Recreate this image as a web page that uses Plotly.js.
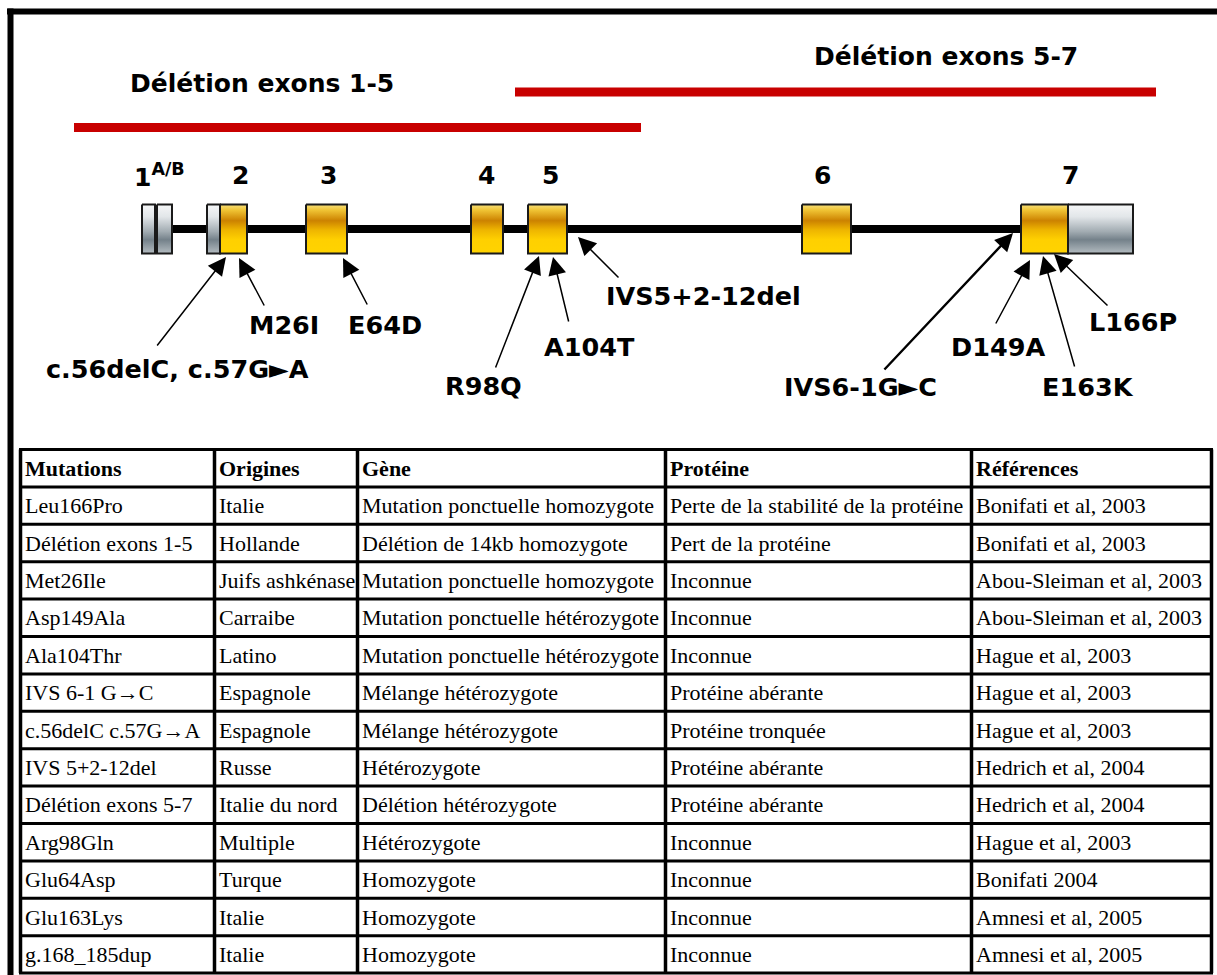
<!DOCTYPE html>
<html>
<head>
<meta charset="utf-8">
<script src="https://cdn.plot.ly/plotly-3.0.1.min.js"></script>
<style>html,body{margin:0;padding:0;background:#fff;}#chart{width:1217px;height:975px;}</style>
</head>
<body>
<div id="chart"></div>
<script>
// ---- Gene structure data ----
const exonNames  = ['1A', '1B', '2', '3', '4', '5', '6', '7'];
const exonStart  = [142, 157, 207, 306, 471, 528, 802, 1021];
const exonEnd    = [155, 172, 247, 347, 503, 567, 851, 1133];
const cdsStart   = [null, null, 220, 306, 471, 528, 802, 1021];
const cdsEnd     = [null, null, 247, 347, 503, 567, 851, 1068];
const exonLabels = ['1<sup>A/B</sup>', '2', '3', '4', '5', '6', '7'];
const exonLabelX = [159, 240, 328, 486, 550, 822, 1070];

// ---- Deletions ----
const delNames = ['Délétion exons 1-5', 'Délétion exons 5-7'];
const delStart = [74, 515];
const delEnd   = [641, 1156];
const delY     = [127.5, 92];
const delLabelX = [262, 946];
const delLabelY = [83, 56];

// ---- Mutations (arrow head, arrow tail, label) ----
const mutNames  = ['c.56delC, c.57G►A', 'M26I', 'E64D', 'R98Q', 'A104T', 'IVS5+2-12del', 'IVS6-1G►C', 'D149A', 'E163K', 'L166P'];
const mutHeadX  = [226, 239, 343, 539, 553, 578, 1013, 1030, 1043, 1054];
const mutHeadY  = [257, 258, 258, 256, 257, 237, 233, 260, 256, 254];
const mutTailX  = [156, 265, 368, 495, 569, 620, 883, 995, 1075, 1109];
const mutTailY  = [347, 307, 306, 369, 323, 279, 371, 325, 368, 307];
const mutLabelX = [177, 284, 385, 483, 589, 703, 860, 998, 1088, 1133];
const mutLabelY = [369, 325, 325, 386, 347, 296, 387, 347, 387, 322];
const mutArrowW = [1.5, 1.5, 1.5, 1.5, 1.5, 1.5, 2.4, 1.5, 1.5, 1.5];

// ---- Table data ----
const tableHeader = ['Mutations', 'Origines', 'Gène', 'Protéine', 'Références'];
const colMutations = ['Leu166Pro', 'Délétion exons 1-5', 'Met26Ile', 'Asp149Ala', 'Ala104Thr', 'IVS 6-1 G→C', 'c.56delC c.57G→A', 'IVS 5+2-12del', 'Délétion exons 5-7', 'Arg98Gln', 'Glu64Asp', 'Glu163Lys', 'g.168_185dup'];
const colOrigines = ['Italie', 'Hollande', 'Juifs ashkénase', 'Carraibe', 'Latino', 'Espagnole', 'Espagnole', 'Russe', 'Italie du nord', 'Multiple', 'Turque', 'Italie', 'Italie'];
const colGene = ['Mutation ponctuelle homozygote', 'Délétion de 14kb homozygote', 'Mutation ponctuelle homozygote', 'Mutation ponctuelle hétérozygote', 'Mutation ponctuelle hétérozygote', 'Mélange hétérozygote', 'Mélange hétérozygote', 'Hétérozygote', 'Délétion hétérozygote', 'Hétérozygote', 'Homozygote', 'Homozygote', 'Homozygote'];
const colProteine = ['Perte de la stabilité de la protéine', 'Pert de la protéine', 'Inconnue', 'Inconnue', 'Inconnue', 'Protéine abérante', 'Protéine tronquée', 'Protéine abérante', 'Protéine abérante', 'Inconnue', 'Inconnue', 'Inconnue', 'Inconnue'];
const colReferences = ['Bonifati et al, 2003', 'Bonifati et al, 2003', 'Abou-Sleiman et al, 2003', 'Abou-Sleiman et al, 2003', 'Hague et al, 2003', 'Hague et al, 2003', 'Hague et al, 2003', 'Hedrich et al, 2004', 'Hedrich et al, 2004', 'Hague et al, 2003', 'Bonifati 2004', 'Amnesi et al, 2005', 'Amnesi et al, 2005'];

// ---- Layout constants (styling / geometry) ----
const W = 1217, H = 975;
const geneY = 229, boxHalf = 24.5;
const tableTop = 449.5, rowH = 37.4;
const colEdges = [20.5, 214.5, 357.5, 665.5, 971.5, 1211.5];
const serif = 'Liberation Serif, Times New Roman, serif';
const sans = 'DejaVu Sans, Verdana, sans-serif';

const goldScale = [[0, '#f7e07a'], [0.12, '#efc233'], [0.33, '#cc8200'], [0.52, '#eeb500'], [0.72, '#ffd000'], [1, '#ffd300']];
const grayScale = [[0, '#f6f7f8'], [0.25, '#e2e6e9'], [0.55, '#a2acb2'], [0.72, '#74818a'], [1, '#b4bcc1']];

const traces = [];
const shapes = [];
const annotations = [];

// intron line
traces.push({x: [148, 1133], y: [geneY, geneY], mode: 'lines', line: {color: '#000', width: 8}, hoverinfo: 'skip', showlegend: false});

// deletion bars
for (let i = 0; i < delNames.length; i++) {
  traces.push({x: [delStart[i], delEnd[i]], y: [delY[i], delY[i]], mode: 'lines', line: {color: '#c80000', width: 9}, hoverinfo: 'skip', showlegend: false});
  annotations.push({x: delLabelX[i], y: delLabelY[i], xref: 'x', yref: 'y', text: '<b>' + delNames[i] + '</b>', showarrow: false,
    font: {family: sans, size: 25, color: '#000'}, xanchor: 'center', yanchor: 'middle'});
}

function box(x0, x1, scale) {
  const y0 = geneY - boxHalf, y1 = geneY + boxHalf;
  traces.push({x: [x0, x1, x1, x0, x0], y: [y0, y0, y1, y1, y0], mode: 'lines', fill: 'toself',
    fillgradient: {type: 'vertical', colorscale: scale, start: y0, stop: y1},
    line: {color: '#1a1a1a', width: 2}, hoverinfo: 'skip', showlegend: false});
}
// exons
for (let i = 0; i < exonNames.length; i++) {
  if (cdsStart[i] === null) { box(exonStart[i], exonEnd[i], grayScale); continue; }
  if (exonStart[i] < cdsStart[i]) box(exonStart[i], cdsStart[i], grayScale);
  box(cdsStart[i], cdsEnd[i], goldScale);
  if (cdsEnd[i] < exonEnd[i]) box(cdsEnd[i], exonEnd[i], grayScale);
}
// exon labels
for (let i = 0; i < exonLabels.length; i++) {
  annotations.push({x: exonLabelX[i], y: 175, xref: 'x', yref: 'y', text: '<b>' + exonLabels[i] + '</b>', showarrow: false,
    font: {family: sans, size: 25, color: '#000'}, xanchor: 'center', yanchor: 'middle'});
}
// mutation arrows + labels
for (let i = 0; i < mutNames.length; i++) {
  annotations.push({x: mutHeadX[i], y: mutHeadY[i], xref: 'x', yref: 'y', ax: mutTailX[i], ay: mutTailY[i], axref: 'x', ayref: 'y',
    text: '', showarrow: true, arrowhead: 2, arrowsize: 3.6 / mutArrowW[i], arrowwidth: mutArrowW[i], arrowcolor: '#000', standoff: 0, startstandoff: 0});
  annotations.push({x: mutLabelX[i], y: mutLabelY[i], xref: 'x', yref: 'y', text: '<b>' + mutNames[i] + '</b>', showarrow: false,
    font: {family: sans, size: 25.5, color: '#000'}, xanchor: 'center', yanchor: 'middle'});
}

// outer frame
shapes.push({type: 'rect', xref: 'x', yref: 'y', x0: 7, x1: W, y0: 8.5, y1: 14.5, fillcolor: '#000', line: {width: 0}});
shapes.push({type: 'rect', xref: 'x', yref: 'y', x0: 7.5, x1: 13.5, y0: 8.5, y1: H, fillcolor: '#000', line: {width: 0}});

// table
const columns = [colMutations, colOrigines, colGene, colProteine, colReferences];
const nRows = colMutations.length + 1;
for (let r = 0; r <= nRows; r++) {
  const y = tableTop + r * rowH;
  shapes.push({type: 'line', xref: 'x', yref: 'y', x0: colEdges[0] - 1.5, x1: colEdges[colEdges.length - 1] + 1.5, y0: y, y1: y, line: {color: '#000', width: 3}});
}
for (let c = 0; c < colEdges.length; c++) {
  shapes.push({type: 'line', xref: 'x', yref: 'y', x0: colEdges[c], x1: colEdges[c], y0: tableTop, y1: tableTop + nRows * rowH, line: {color: '#000', width: 3.5}});
}
for (let c = 0; c < columns.length; c++) {
  annotations.push({x: colEdges[c] + 2.5, y: tableTop + rowH / 2, xref: 'x', yref: 'y', text: '<b>' + tableHeader[c] + '</b>', showarrow: false,
    font: {family: serif, size: 22, color: '#000'}, xanchor: 'left', yanchor: 'middle'});
  for (let r = 0; r < columns[c].length; r++) {
    annotations.push({x: colEdges[c] + 2.5, y: tableTop + (r + 1.5) * rowH, xref: 'x', yref: 'y', text: columns[c][r], showarrow: false,
      font: {family: serif, size: 22, color: '#000'}, xanchor: 'left', yanchor: 'middle'});
  }
}

const layout = {
  width: W, height: H, autosize: false,
  margin: {l: 0, r: 0, t: 0, b: 0, pad: 0},
  paper_bgcolor: '#fff', plot_bgcolor: '#fff',
  xaxis: {range: [0, W], visible: false, fixedrange: true},
  yaxis: {range: [H, 0], visible: false, fixedrange: true},
  showlegend: false,
  shapes: shapes,
  annotations: annotations
};
Plotly.newPlot('chart', traces, layout, {displayModeBar: false, staticPlot: true});
</script>
</body>
</html>
